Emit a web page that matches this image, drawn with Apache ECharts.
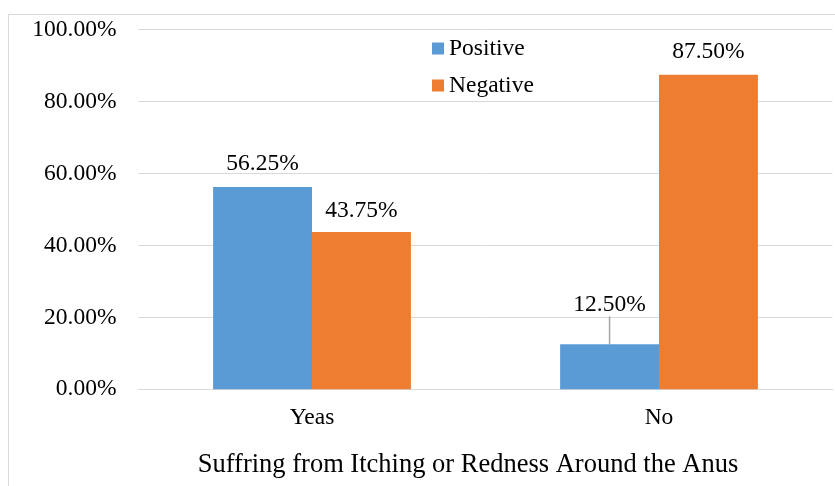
<!DOCTYPE html>
<html>
<head>
<meta charset="utf-8">
<script src="https://cdn.jsdelivr.net/npm/echarts@6/dist/echarts.min.js"></script>
<style>
  html, body { margin: 0; padding: 0; background: #fff; }
  #chart { width: 835px; height: 486px; }
</style>
</head>
<body>
<div id="chart"></div>
<script>
// Answers to the itching / redness question, split by test result
const categories = ['Yeas', 'No'];
const positiveValues = [56.25, 12.50];
const negativeValues = [43.75, 87.50];
const seriesNames = ['Positive', 'Negative'];
const axisTitle = 'Suffring from Itching or Redness Around the Anus';

// Gap between each bar top and its value label
const positiveLabelGap = [11, 13];
const negativeLabelGap = [9, 11];

const FONT = '"Liberation Serif", "Times New Roman", serif';
const FS = 23.5;
const GRID_GRAY = '#d9d9d9';

function withLabels(values, gaps) {
  return values.map((v, i) => ({
    value: v,
    label: { distance: gaps[i] }
  }));
}

// Only the short "No" bar gets a guide line to its lifted label
const positiveData = withLabels(positiveValues, positiveLabelGap);
positiveData[1].labelLine = { show: true, lineStyle: { color: '#a6a6a6', width: 1.5 } };

const chart = echarts.init(document.getElementById('chart'), null, { renderer: 'canvas' });

chart.setOption({
  animation: false,
  textStyle: { fontFamily: FONT, color: '#000' },
  graphic: [{
    type: 'rect',
    silent: true,
    shape: { x: 8.5, y: 14.5, width: 900, height: 600 },
    style: { fill: 'none', stroke: GRID_GRAY, lineWidth: 1 }
  }],
  legend: {
    orient: 'vertical',
    left: 432,
    top: 36.5,
    padding: 0,
    itemWidth: 12,
    itemHeight: 12,
    itemGap: 13,
    icon: 'rect',
    textStyle: { fontFamily: FONT, fontSize: FS, color: '#000', padding: [0, 0, 0, 0] },
    data: seriesNames
  },
  grid: { left: 138.5, right: 2.5, top: 29.7, bottom: 96.7, containLabel: false },
  xAxis: {
    type: 'category',
    data: categories,
    name: axisTitle,
    nameLocation: 'middle',
    nameGap: 62,
    nameTextStyle: { fontFamily: FONT, fontSize: 26.5, color: '#000', padding: [0, 35, 0, 0] },
    axisLine: { lineStyle: { color: GRID_GRAY, width: 1 } },
    axisTick: { show: false },
    axisLabel: { fontFamily: FONT, fontSize: FS, color: '#000', margin: 17 }
  },
  yAxis: {
    type: 'value',
    min: 0,
    max: 100,
    interval: 20,
    axisLine: { show: false },
    axisTick: { show: false },
    splitLine: { lineStyle: { color: GRID_GRAY, width: 1 } },
    axisLabel: {
      fontFamily: FONT, fontSize: FS, color: '#000', margin: 22,
      formatter: v => v.toFixed(2) + '%'
    }
  },
  series: [
    {
      name: seriesNames[0],
      type: 'bar',
      barGap: '0%',
      barCategoryGap: '43%',
      itemStyle: { color: '#5B9BD5' },
      label: {
        show: true, position: 'top', fontFamily: FONT, fontSize: FS, color: '#000',
        formatter: p => p.value.toFixed(2) + '%'
      },
      labelLine: { show: false },
      data: positiveData
    },
    {
      name: seriesNames[1],
      type: 'bar',
      barGap: '0%',
      barCategoryGap: '43%',
      itemStyle: { color: '#ED7D31' },
      label: {
        show: true, position: 'top', fontFamily: FONT, fontSize: FS, color: '#000',
        formatter: p => p.value.toFixed(2) + '%'
      },
      data: withLabels(negativeValues, negativeLabelGap)
    }
  ],
  // The short "No" bar's label is lifted clear of the gridline
  labelLayout: function (params) {
    if (params.seriesIndex === 0 && params.dataIndex === 1) {
      return { dy: -15 };
    }
    return {};
  }
});
</script>
</body>
</html>
